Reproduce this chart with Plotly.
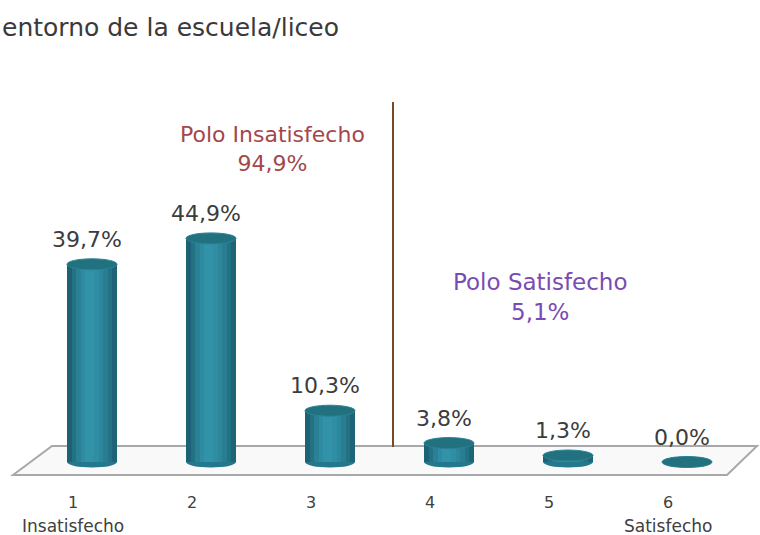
import plotly.graph_objects as go

# ---- data ----
categories = ["1", "2", "3", "4", "5", "6"]
category_sub = ["Insatisfecho", "", "", "", "", "Satisfecho"]
values = [39.7, 44.9, 10.3, 3.8, 1.3, 0.0]
value_labels = ["39,7%", "44,9%", "10,3%", "3,8%", "1,3%", "0,0%"]
pole_labels = ["Polo Insatisfecho<br>94,9%", "Polo Satisfecho<br>5,1%"]
title_text = "entorno de la escuela/liceo"

W, H = 760, 535
X0PX, DXPX = 92.0, 119.0      # pixel position of first category, spacing
Y0PX, DYPX = 462.0, 4.98      # pixel position of value 0, pixels per unit

x_range = [-X0PX / DXPX, (W - X0PX) / DXPX]
y_range = [-(H - Y0PX) / DYPX, Y0PX / DYPX]

def px_x(px):
    return px / W
def px_y(py):
    return 1 - py / H

xs = list(range(len(categories)))
bar_w = 50 / DXPX
cap_h = 5.5 / DYPX

# cylinder shading profile (left -> right)
shade = ["#1d6274", "#237183", "#2a8196", "#2e8ba1", "#3192a8", "#3192a8",
         "#2f8ea4", "#2c879c", "#287d91", "#237184", "#1e6476"]
n = len(shade)

fig = go.Figure()
for k, c in enumerate(shade):
    fig.add_trace(go.Bar(
        x=xs, y=values, width=bar_w / n + 0.004,
        offset=-bar_w / 2 + k * bar_w / n,
        marker=dict(color=c, line=dict(width=0)),
        hoverinfo="skip", showlegend=False,
    ))

shapes = []
# floor
floor_path = "M {} {} L {} {} L {} {} L {} {} Z".format(
    px_x(13), px_y(475), px_x(52), px_y(446), px_x(757), px_y(446), px_x(727), px_y(475))
shapes.append(dict(type="path", path=floor_path, xref="paper", yref="paper",
                   fillcolor="#f9f9f9", line=dict(color="#a8a8a8", width=2), layer="below"))
# bottom ellipses and top caps
for xi, v in zip(xs, values):
    shapes.append(dict(type="circle", xref="x", yref="y",
                       x0=xi - bar_w / 2, x1=xi + bar_w / 2, y0=-cap_h, y1=cap_h,
                       fillcolor="#24788b", line=dict(width=0), layer="below"))
    shapes.append(dict(type="circle", xref="x", yref="y",
                       x0=xi - bar_w / 2, x1=xi + bar_w / 2, y0=v - cap_h, y1=v + cap_h,
                       fillcolor="#22717f", line=dict(color="#2a8296", width=1), layer="above"))
# divider line
shapes.append(dict(type="line", xref="paper", yref="paper",
                   x0=px_x(393), x1=px_x(393), y0=px_y(447), y1=px_y(102),
                   line=dict(color="#7a4a24", width=2)))

annotations = []
for xi, v, lab in zip(xs, values, value_labels):
    annotations.append(dict(x=xi, y=v, xref="x", yref="y", text=lab, showarrow=False,
                            xanchor="center", yanchor="middle",
                            xshift=-5, yshift=25,
                            font=dict(family="DejaVu Sans", size=22, color="#3c3c3c")))
for xi, c, s in zip(xs, categories, category_sub):
    annotations.append(dict(x=xi, y=px_y(502), xref="x", yref="paper", text=c, showarrow=False,
                            xanchor="center", yanchor="middle",
                            xshift=-19, font=dict(family="DejaVu Sans", size=16, color="#404040")))
    if s:
        annotations.append(dict(x=xi, y=px_y(526), xref="x", yref="paper", text=s, showarrow=False,
                                xanchor="center", yanchor="middle",
                                xshift=-19, font=dict(family="DejaVu Sans", size=17, color="#404040")))
annotations.append(dict(x=px_x(272), y=px_y(149), xref="paper", yref="paper", text=pole_labels[0],
                        showarrow=False, align="center", xanchor="center", yanchor="middle",
                        font=dict(family="DejaVu Sans", size=22, color="#a3474c")))
annotations.append(dict(x=px_x(540), y=px_y(297), xref="paper", yref="paper", text=pole_labels[1],
                        showarrow=False, align="center", xanchor="center", yanchor="middle",
                        font=dict(family="DejaVu Sans", size=23, color="#7a4bb3")))
annotations.append(dict(x=0, y=px_y(27), xref="paper", yref="paper", text=title_text,
                        showarrow=False, xanchor="left", yanchor="middle",
                        font=dict(family="DejaVu Sans", size=25, color="#3a3a3a")))

fig.update_layout(
    width=W, height=H, margin=dict(l=0, r=0, t=0, b=0),
    paper_bgcolor="white", plot_bgcolor="rgba(0,0,0,0)",
    barmode="overlay", bargap=0,
    xaxis=dict(range=x_range, visible=False, fixedrange=True),
    yaxis=dict(range=y_range, visible=False, fixedrange=True),
    shapes=shapes, annotations=annotations, showlegend=False,
)
fig.write_html("out.html", config={"displayModeBar": False},
               post_script="document.body.style.margin='0';document.body.style.overflow='hidden';")
